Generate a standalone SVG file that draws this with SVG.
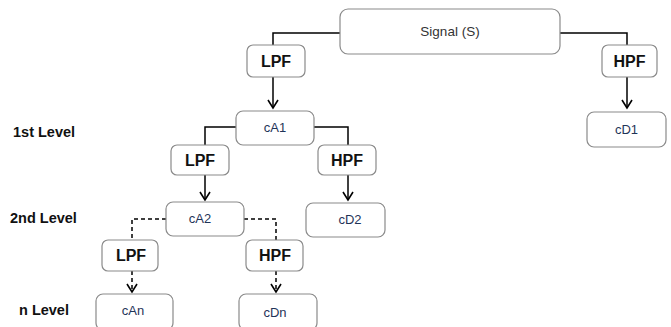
<svg xmlns="http://www.w3.org/2000/svg" width="671" height="327" viewBox="0 0 671 327">
<defs>
<marker id="arr" viewBox="0 0 12 12" refX="10" refY="6" markerWidth="12" markerHeight="12" markerUnits="userSpaceOnUse" orient="auto">
<path d="M2,1 L10,6 L2,11" fill="none" stroke="#000" stroke-width="1.6"/>
</marker>
</defs>
<style>
.box{fill:#fff;stroke:#8a8a8a;stroke-width:1.2}
.flt{font-family:"Liberation Sans",Arial,sans-serif;font-weight:bold;font-size:16px;fill:#111;text-anchor:middle}
.coef{font-family:"Liberation Sans",Arial,sans-serif;font-size:13px;fill:#1f3458;text-anchor:middle}
.sig{font-family:"Liberation Sans",Arial,sans-serif;font-size:13.5px;fill:#333;text-anchor:middle}
.lvl{font-family:"Liberation Sans",Arial,sans-serif;font-weight:bold;font-size:14.5px;fill:#111}
.ln{fill:none;stroke:#000;stroke-width:1.5}
.dl{fill:none;stroke:#000;stroke-width:1.5;stroke-dasharray:4,3}
</style>
<rect width="671" height="327" fill="#fff"/>
<g id="connectors">
<path class="ln" d="M340,33 H273 V45"/>
<path class="ln" d="M560,33 H627 V45"/>
<path class="ln" d="M273,77 V108" marker-end="url(#arr)"/>
<path class="ln" d="M627,77 V108" marker-end="url(#arr)"/>
<path class="ln" d="M236,127 H205 V145"/>
<path class="ln" d="M314,127 H348 V145"/>
<path class="ln" d="M205,175 V200" marker-end="url(#arr)"/>
<path class="ln" d="M348,175 V200" marker-end="url(#arr)"/>
<path class="dl" d="M166,219 H132 V240"/>
<path class="dl" d="M244,219 H276 V240"/>
<path class="dl" d="M132,271 V292" marker-end="url(#arr)"/>
<path class="dl" d="M276,271 V292" marker-end="url(#arr)"/>
</g>
<g id="signal"><rect class="box" x="340" y="9" width="220" height="45" rx="8"/><text class="sig" x="450" y="36">Signal (S)</text></g>
<g id="lpf1"><rect class="box" x="247" y="45" width="58" height="32" rx="6"/><text class="flt" x="276" y="67">LPF</text></g>
<g id="hpf1"><rect class="box" x="602" y="45" width="55" height="32" rx="6"/><text class="flt" x="629.5" y="67">HPF</text></g>
<g id="cA1"><rect class="box" x="236" y="111" width="78" height="34" rx="7"/><text class="coef" x="275" y="132">cA1</text></g>
<g id="cD1"><rect class="box" x="587" y="112" width="79" height="35" rx="7"/><text class="coef" x="626.5" y="134">cD1</text></g>
<g id="lpf2"><rect class="box" x="171" y="145" width="58" height="30" rx="6"/><text class="flt" x="200" y="166">LPF</text></g>
<g id="hpf2"><rect class="box" x="318" y="145" width="58" height="30" rx="6"/><text class="flt" x="347" y="166">HPF</text></g>
<g id="cA2"><rect class="box" x="166" y="202" width="78" height="34" rx="7"/><text class="coef" x="200" y="223">cA2</text></g>
<g id="cD2"><rect class="box" x="306" y="203" width="79" height="34" rx="7"/><text class="coef" x="350" y="224">cD2</text></g>
<g id="lpf3"><rect class="box" x="102" y="240" width="56" height="31" rx="6"/><text class="flt" x="131" y="261">LPF</text></g>
<g id="hpf3"><rect class="box" x="246" y="240" width="57" height="31" rx="6"/><text class="flt" x="275" y="261">HPF</text></g>
<g id="cAn"><rect class="box" x="96" y="294" width="77" height="36" rx="7"/><text class="coef" x="133" y="315">cAn</text></g>
<g id="cDn"><rect class="box" x="239" y="294" width="78" height="36" rx="7"/><text class="coef" x="275" y="317">cDn</text></g>
<g id="levels">
<text class="lvl" x="13" y="137">1st Level</text>
<text class="lvl" x="10" y="223">2nd Level</text>
<text class="lvl" x="19" y="315">n Level</text>
</g>
</svg>
